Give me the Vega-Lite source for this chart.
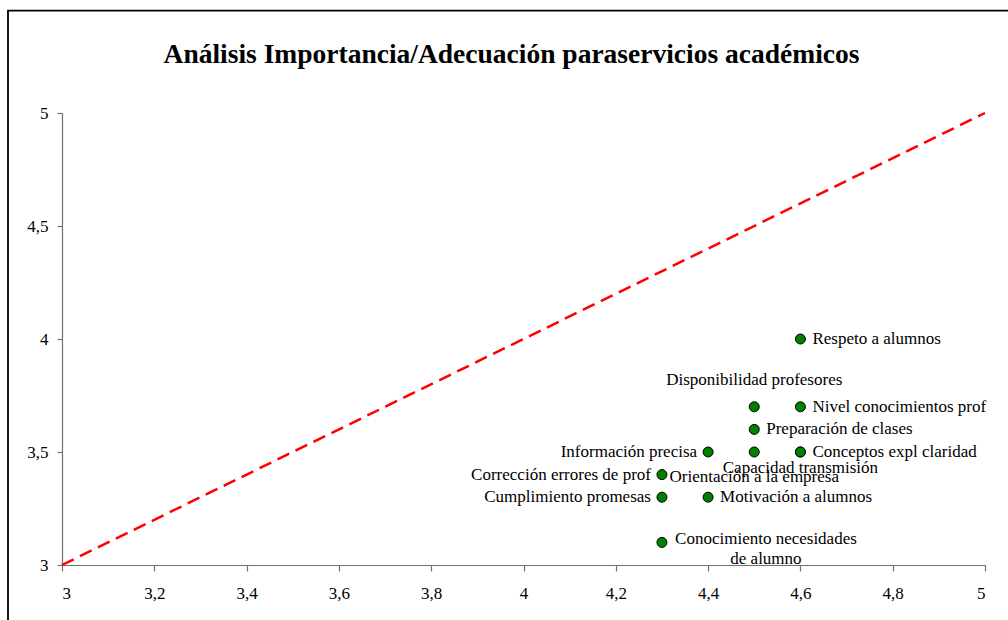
{
  "$schema": "https://vega.github.io/schema/vega-lite/v6.json",
  "width": 923,
  "height": 452,
  "autosize": {"type": "none"},
  "padding": {"left": 62, "top": 113, "right": 23, "bottom": 55},
  "background": "white",
  "config": {
    "view": {"stroke": null},
    "font": "Liberation Serif",
    "axis": {"grid": false, "domainColor": "#707070", "tickColor": "#707070", "labelColor": "black", "labelFont": "Liberation Serif", "labelFontSize": 17, "tickSize": 5, "domainWidth": 1.2, "tickWidth": 1.2}
  },
  "title": {"text": "Análisis Importancia/Adecuación paraservicios académicos", "font": "Liberation Serif", "fontSize": 27.5, "fontWeight": "bold", "color": "black", "anchor": "middle", "offset": -59, "dx": -12},
  "datasets": {
    "servicios": [
      {"servicio": "Respeto a alumnos", "importancia": 4.6, "adecuacion": 4.0},
      {"servicio": "Disponibilidad profesores", "importancia": 4.5, "adecuacion": 3.7},
      {"servicio": "Nivel conocimientos prof", "importancia": 4.6, "adecuacion": 3.7},
      {"servicio": "Preparación de clases", "importancia": 4.5, "adecuacion": 3.6},
      {"servicio": "Información precisa", "importancia": 4.4, "adecuacion": 3.5},
      {"servicio": "Orientación a la empresa", "importancia": 4.5, "adecuacion": 3.5},
      {"servicio": "Conceptos expl claridad", "importancia": 4.6, "adecuacion": 3.5},
      {"servicio": "Capacidad transmisión", "importancia": 4.6, "adecuacion": 3.5},
      {"servicio": "Corrección errores de prof", "importancia": 4.3, "adecuacion": 3.4},
      {"servicio": "Cumplimiento promesas", "importancia": 4.3, "adecuacion": 3.3},
      {"servicio": "Motivación a alumnos", "importancia": 4.4, "adecuacion": 3.3},
      {"servicio": "Conocimiento necesidades\nde alumno", "importancia": 4.3, "adecuacion": 3.1}
    ],
    "diagonal": [
      {"importancia": 3, "adecuacion": 3},
      {"importancia": 5, "adecuacion": 5}
    ],
    "marco": [
      {"x1": 2.883, "x2": 5.3, "y1": 5.453, "y2": 2.5}
    ]
  },
  "data": {"name": "servicios"},
  "encoding": {
    "x": {"field": "importancia", "type": "quantitative", "title": null,
      "scale": {"domain": [3, 5], "nice": false, "zero": false},
      "axis": {"values": [3, 3.2, 3.4, 3.6, 3.8, 4, 4.2, 4.4, 4.6, 4.8, 5], "format": ".2~f", "labelExpr": "replace(datum.label, '.', ',')", "labelPadding": 14, "tickSize": 6}},
    "y": {"field": "adecuacion", "type": "quantitative", "title": null,
      "scale": {"domain": [3, 5], "nice": false, "zero": false},
      "axis": {"values": [3, 3.5, 4, 4.5, 5], "format": ".2~f", "labelExpr": "replace(datum.label, '.', ',')", "labelPadding": 9}}
  },
  "layer": [
    {
      "data": {"name": "marco"},
      "mark": {"type": "rect", "filled": false, "stroke": "black", "strokeWidth": 1.8, "clip": false},
      "encoding": {
        "x": {"field": "x1", "type": "quantitative"},
        "x2": {"field": "x2"},
        "y": {"field": "y1", "type": "quantitative"},
        "y2": {"field": "y2"}
      }
    },
    {
      "data": {"name": "diagonal"},
      "mark": {"type": "line", "color": "#FF0000", "strokeWidth": 2.5, "strokeDash": [13, 7]},
      "encoding": {}
    },
    {
      "mark": {"type": "point", "shape": "circle", "filled": true, "fill": "#008000", "stroke": "black", "strokeWidth": 1, "size": 100, "opacity": 1},
      "encoding": {}
    },
    {
      "transform": [{"filter": {"field": "servicio", "oneOf": ["Respeto a alumnos", "Nivel conocimientos prof", "Preparación de clases", "Conceptos expl claridad", "Motivación a alumnos"]}}],
      "mark": {"type": "text", "align": "left", "baseline": "middle", "dx": 12, "fontSize": 17, "color": "black", "font": "Liberation Serif"},
      "encoding": {"text": {"field": "servicio"}}
    },
    {
      "transform": [{"filter": {"field": "servicio", "oneOf": ["Información precisa", "Corrección errores de prof", "Cumplimiento promesas"]}}],
      "mark": {"type": "text", "align": "right", "baseline": "middle", "dx": -11, "fontSize": 17, "color": "black", "font": "Liberation Serif"},
      "encoding": {"text": {"field": "servicio"}}
    },
    {
      "transform": [{"filter": {"field": "servicio", "equal": "Disponibilidad profesores"}}],
      "mark": {"type": "text", "align": "center", "baseline": "middle", "dy": -27, "fontSize": 17, "color": "black", "font": "Liberation Serif"},
      "encoding": {"text": {"field": "servicio"}}
    },
    {
      "transform": [{"filter": {"field": "servicio", "equal": "Orientación a la empresa"}}],
      "mark": {"type": "text", "align": "center", "baseline": "middle", "dy": 25, "fontSize": 17, "color": "black", "font": "Liberation Serif"},
      "encoding": {"text": {"field": "servicio"}}
    },
    {
      "transform": [{"filter": {"field": "servicio", "equal": "Capacidad transmisión"}}],
      "mark": {"type": "text", "align": "center", "baseline": "middle", "dy": 16, "fontSize": 17, "color": "black", "font": "Liberation Serif"},
      "encoding": {"text": {"field": "servicio"}}
    },
    {
      "transform": [{"filter": {"field": "servicio", "equal": "Conocimiento necesidades\nde alumno"}}],
      "mark": {"type": "text", "align": "center", "baseline": "middle", "dx": 104, "dy": -3, "lineBreak": "\n", "lineHeight": 20, "fontSize": 17, "color": "black", "font": "Liberation Serif"},
      "encoding": {"text": {"field": "servicio"}}
    }
  ]
}
